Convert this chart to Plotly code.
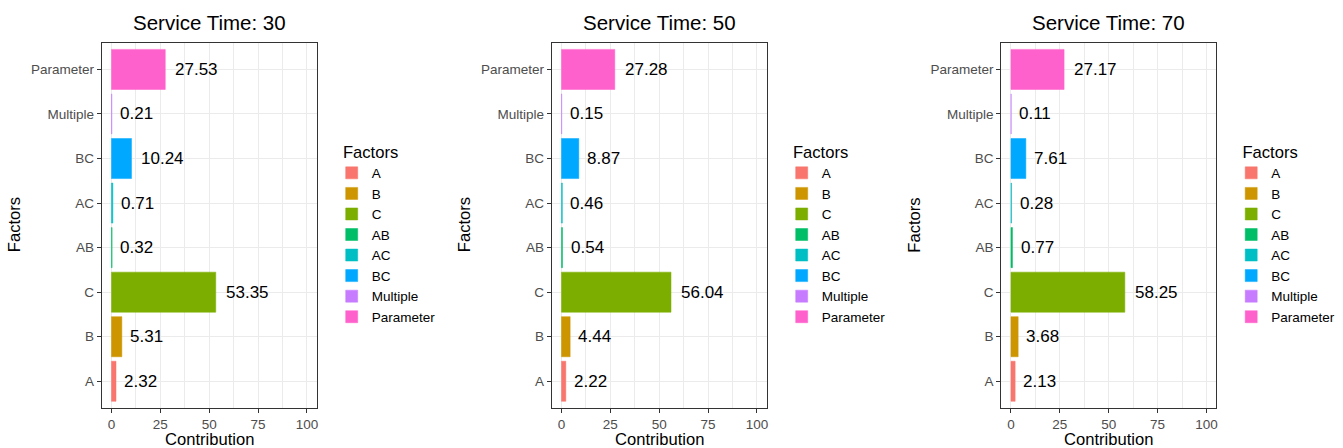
import plotly.graph_objects as go

factors = ["A", "B", "C", "AB", "AC", "BC", "Multiple", "Parameter"]
colors = ["#F8766D", "#CD9600", "#7CAE00", "#00BE67", "#00BFC4", "#00A9FF", "#C77CFF", "#FF61CC"]
service_times = [30, 50, 70]
contrib_30 = [2.32, 5.31, 53.35, 0.32, 0.71, 10.24, 0.21, 27.53]
contrib_50 = [2.22, 4.44, 56.04, 0.54, 0.46, 8.87, 0.15, 27.28]
contrib_70 = [2.13, 3.68, 58.25, 0.77, 0.28, 7.61, 0.11, 27.17]
x_ticks = [0, 25, 50, 75, 100]
all_data = [contrib_30, contrib_50, contrib_70]

W, H = 1343, 448
FONT = "Liberation Sans, Arial, sans-serif"

fig = go.Figure()

panel_left = [101.7, 551.7, 1001.2]
panel_w = 215.0
top_px, bot_px = 42.7, 408.0

annotations = []
for p, (st, vals) in enumerate(zip(service_times, all_data)):
    axn = "" if p == 0 else str(p + 1)
    legname = "legend" if p == 0 else f"legend{p+1}"
    for f, c, v in zip(factors, colors, vals):
        fig.add_trace(go.Bar(
            x=[v], y=[f], orientation="h", name=f,
            marker=dict(color=c, line=dict(color=c, width=0.5)),
            width=0.9, xaxis="x" + axn, yaxis="y" + axn,
            legend=legname, showlegend=True, hoverinfo="x+y",
        ))
        txt = f"{v:.2f}"
        annotations.append(dict(
            x=v, y=f, xref="x" + axn, yref="y" + axn, text=txt,
            showarrow=False, xanchor="left", yanchor="middle",
            xshift=1.9 * len(txt) - 1.5,
            font=dict(family=FONT, size=17, color="black"),
        ))
    x0 = panel_left[p] / W
    x1 = (panel_left[p] + panel_w) / W
    xaxis = dict(
        domain=[x0, x1], range=[-5, 105], tickvals=x_ticks,
        showgrid=True, gridcolor="#EBEBEB", gridwidth=1.1,
        minor=dict(dtick=12.5, tick0=0, showgrid=True, gridcolor="#EBEBEB", gridwidth=0.55),
        showline=True, mirror=True, linecolor="#333333", linewidth=1,
        ticks="outside", ticklen=4, tickwidth=1, tickcolor="#333333",
        tickfont=dict(family=FONT, size=13.5, color="#4D4D4D"),
        zeroline=False, anchor="y" + axn, fixedrange=True,
    )
    yaxis = dict(
        domain=[(H - bot_px) / H, (H - top_px) / H],
        type="category", categoryorder="array", categoryarray=factors,
        range=[-0.6, 7.6],
        showgrid=True, gridcolor="#EBEBEB", gridwidth=1.1,
        showline=True, mirror=True, linecolor="#333333", linewidth=1,
        ticks="outside", ticklen=4, tickwidth=1, tickcolor="#333333",
        tickfont=dict(family=FONT, size=13.5, color="#4D4D4D"),
        zeroline=False, anchor="x" + axn, fixedrange=True,
    )
    fig.update_layout(**{"xaxis" + axn: xaxis, "yaxis" + axn: yaxis})
    cx = (panel_left[p] + panel_w / 2) / W
    # subplot title
    annotations.append(dict(
        x=cx, y=(H - 23) / H, xref="paper", yref="paper",
        text=f"Service Time: {st}", showarrow=False,
        xanchor="center", yanchor="middle",
        font=dict(family=FONT, size=20.5, color="black"),
    ))
    # x axis title
    annotations.append(dict(
        x=cx, y=(H - 439.5) / H, xref="paper", yref="paper",
        text="Contribution", showarrow=False,
        xanchor="center", yanchor="middle",
        font=dict(family=FONT, size=16.6, color="black"),
    ))
    # y axis title
    annotations.append(dict(
        x=(panel_left[p] - 86.5) / W, y=(H - 225) / H, xref="paper", yref="paper",
        text="Factors", showarrow=False, textangle=-90,
        xanchor="center", yanchor="middle",
        font=dict(family=FONT, size=16.6, color="black"),
    ))
    leg = dict(
        x=(panel_left[p] + 230) / W, y=(H - 136) / H,
        xanchor="left", yanchor="top",
        title=dict(text="\u00a0\u00a0Factors", font=dict(family=FONT, size=16.6, color="black")),
        font=dict(family=FONT, size=13.5, color="black"),
        bgcolor="rgba(0,0,0,0)", borderwidth=0,
        traceorder="normal", itemclick=False, itemdoubleclick=False,
    )
    fig.update_layout(**{legname: leg})

fig.update_layout(
    width=W, height=H, barmode="overlay",
    margin=dict(l=0, r=0, t=0, b=0, autoexpand=False),
    paper_bgcolor="white", plot_bgcolor="white",
    annotations=annotations,
    font=dict(family=FONT),
)

fig.write_html(
    "out.html",
    config={"displayModeBar": False},
    post_script="document.body.style.margin='0';document.body.style.overflow='hidden';",
)
